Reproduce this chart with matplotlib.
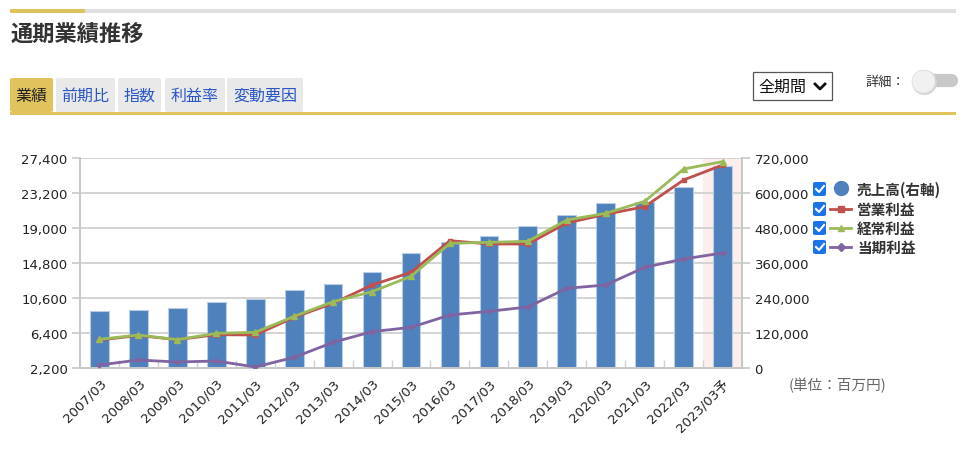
import numpy as np
import matplotlib
matplotlib.use('Agg')
import matplotlib.pyplot as plt
from matplotlib.patches import Rectangle, FancyBboxPatch
from matplotlib.lines import Line2D

plt.rcParams['font.family'] = ['DejaVu Sans', 'Noto Sans CJK JP']

JP = ['Noto Sans CJK JP', 'DejaVu Sans']

# data (millions of yen)
years = ['2007/03', '2008/03', '2009/03', '2010/03', '2011/03', '2012/03', '2013/03',
         '2014/03', '2015/03', '2016/03', '2017/03', '2018/03', '2019/03', '2020/03',
         '2021/03', '2022/03', '2023/03予']
sales = [194400, 198900, 206700, 225300, 237600, 267400, 289000, 328000, 393100,
         430900, 453700, 487000, 524600, 564600, 570300, 619400, 693700]
op_profit = [5560, 6100, 5600, 6200, 6160, 8280, 9960, 12160, 13680, 17480, 17080,
             17080, 19600, 20640, 21560, 24760, 26560]
ord_profit = [5640, 6160, 5600, 6360, 6480, 8400, 10160, 11360, 13200, 17160, 17280,
              17400, 19960, 20760, 22200, 26080, 26960]
net_profit = [2560, 3160, 2920, 3040, 2320, 3480, 5280, 6560, 7080, 8560, 9000,
              9520, 11760, 12160, 14280, 15280, 16000]

left_ticks = [2200, 6400, 10600, 14800, 19000, 23200, 27400]
right_ticks = [0, 120000, 240000, 360000, 480000, 600000, 720000]

W, H = 966, 452
fig = plt.figure(figsize=(W / 100, H / 100), dpi=100)


def fx(x):
    return x / W


def fy(y):
    return 1 - y / H


# header decorations
fig.patches.append(Rectangle((fx(10), fy(14)), fx(956) - fx(10), 4 / H,
                             transform=fig.transFigure, color='#e0e0e0', lw=0))
fig.patches.append(Rectangle((fx(10), fy(14)), fx(85) - fx(10), 4 / H,
                             transform=fig.transFigure, color='#e1c35e', lw=0))
fig.text(fx(11), fy(35), '通期業績推移', family=JP, fontsize=16, weight='bold',
         color='#333333', va='center', ha='left')

tabs = [('業績', 10, 53), ('前期比', 56, 115), ('指数', 118, 161),
        ('利益率', 165, 225), ('変動要因', 227, 303)]
for i, (label, x0, x1) in enumerate(tabs):
    bg = '#e1c35e' if i == 0 else '#e9e9e9'
    fig.patches.append(FancyBboxPatch((fx(x0), fy(113)), fx(x1) - fx(x0), 34 / H,
                                      boxstyle='round,pad=0,rounding_size=0.003',
                                      transform=fig.transFigure, fc=bg, ec='none'))
    fig.text(fx((x0 + x1) / 2), fy(96), label, family=JP, fontsize=11.5,
             color='#222222' if i == 0 else '#2a56c6', ha='center', va='center')
fig.patches.append(Rectangle((fx(10), fy(116)), fx(956) - fx(10), 3 / H,
                             transform=fig.transFigure, color='#e1c35e', lw=0))

# period dropdown
fig.patches.append(Rectangle((fx(753), fy(101)), fx(832) - fx(753), 28 / H,
                             transform=fig.transFigure, fc='white', ec='#555555', lw=0.9))
fig.text(fx(758), fy(87), '全期間', family=JP, fontsize=11.5, color='#111111',
         ha='left', va='center')
fig.lines.append(Line2D([fx(815), fx(820), fx(825)], [fy(85), fy(90), fy(85)],
                        transform=fig.transFigure, color='#111111', lw=2))

# detail toggle
fig.text(fx(865), fy(82), '詳細：', family=JP, fontsize=9.5, color='#333333',
         ha='left', va='center')
fig.lines.append(Line2D([fx(928), fx(951)], [fy(81), fy(81)], transform=fig.transFigure,
                        color='#c8c8c8', lw=9.5, solid_capstyle='round'))
fig.lines.append(Line2D([fx(923.5)], [fy(83)], transform=fig.transFigure, marker='o',
                        ms=17, color='#d4d4d4', lw=0))
fig.lines.append(Line2D([fx(922.5)], [fy(82)], transform=fig.transFigure, marker='o',
                        ms=16.5, mfc='#f1f1f1', mec='#e4e4e4', mew=0.6, lw=0))

# chart
ax = fig.add_axes([fx(80), fy(369), fx(742) - fx(80), (369 - 159) / H])
ax2 = ax.twinx()
ax.set_zorder(ax2.get_zorder() + 1)
ax.patch.set_visible(False)

x = np.arange(len(years))
ax2.axvspan(len(years) - 1.5, len(years) - 0.5, color='#fdeeee', zorder=0)
ax2.bar(x, sales, width=0.48, color='#4f81bd', edgecolor='#b9cde5', lw=0.8, zorder=2)
ax2.set_ylim(0, 720000)
ax2.set_yticks(right_ticks)
ax2.set_yticklabels(['{:,}'.format(v) for v in right_ticks])

ax.plot(x, op_profit, color='#c0504d', lw=2.0, marker='s', ms=3.5, zorder=3)
ax.plot(x, ord_profit, color='#9bbb59', lw=2.0, marker='^', ms=4.5, zorder=4)
ax.plot(x, net_profit, color='#8064a2', lw=2.0, marker='D', ms=2.5, zorder=3)
ax.set_ylim(2200, 27400)
ax.set_yticks(left_ticks)
ax.set_yticklabels(['{:,}'.format(v) for v in left_ticks])
ax.set_xlim(-0.5, len(years) - 0.5)
ax.set_xticks(x)
ax.set_xticklabels(years, rotation=45, ha='right', va='top', rotation_mode='anchor')
ax.set_xticks(np.arange(-0.5, len(years), 1), minor=True)

for v in left_ticks:
    ax2.axhline((v - 2200) / 25200 * 720000, color='#d3d3d3', lw=1.4, zorder=1)

for a in (ax, ax2):
    for s in a.spines.values():
        s.set_color('#c8c8c8')
        s.set_linewidth(1.4)
    a.spines['top'].set_visible(False)
    a.tick_params(axis='y', length=6, width=1.2, color='#c8c8c8', labelsize=9.5,
                  labelcolor='#222222', pad=3)
ax.tick_params(axis='x', which='major', length=0, labelsize=9.5, labelcolor='#222222',
               pad=6)
ax.tick_params(axis='x', which='minor', direction='in', length=6, width=1.0,
               color='#d0d0d0')

# legend
rows = [(190, '売上高(右軸)', 'bar'), (210, '営業利益', '#c0504d'),
        (229, '経常利益', '#9bbb59'), (248, '当期利益', '#8064a2')]
markers = {'#c0504d': 's', '#9bbb59': '^', '#8064a2': 'D'}
for yy, label, kind in rows:
    fig.patches.append(FancyBboxPatch((fx(813), fy(yy + 7)), 13 / W, 14 / H,
                                      boxstyle='round,pad=0,rounding_size=0.003',
                                      transform=fig.transFigure, fc='#1a73e8', ec='none'))
    fig.lines.append(Line2D([fx(816), fx(819), fx(824)], [fy(yy), fy(yy + 3), fy(yy - 3)],
                            transform=fig.transFigure, color='white', lw=1.5))
    if kind == 'bar':
        fig.lines.append(Line2D([fx(841)], [fy(yy - 1)], transform=fig.transFigure,
                                marker='o', ms=10, color='#4f81bd', lw=0))
    else:
        fig.lines.append(Line2D([fx(830), fx(851)], [fy(yy), fy(yy)],
                                transform=fig.transFigure, color=kind, lw=2))
        fig.lines.append(Line2D([fx(840.5)], [fy(yy)], transform=fig.transFigure,
                                color=kind, marker=markers[kind], ms=4, lw=0))
    fig.text(fx(857), fy(yy), label, family=JP, fontsize=10.5, weight='bold',
             color='#333333', ha='left', va='center')

fig.text(fx(789), fy(386), '(単位：百万円)', family=JP, fontsize=10.5, color='#666666',
         ha='left', va='center')

fig.savefig('out.png', dpi=100)
